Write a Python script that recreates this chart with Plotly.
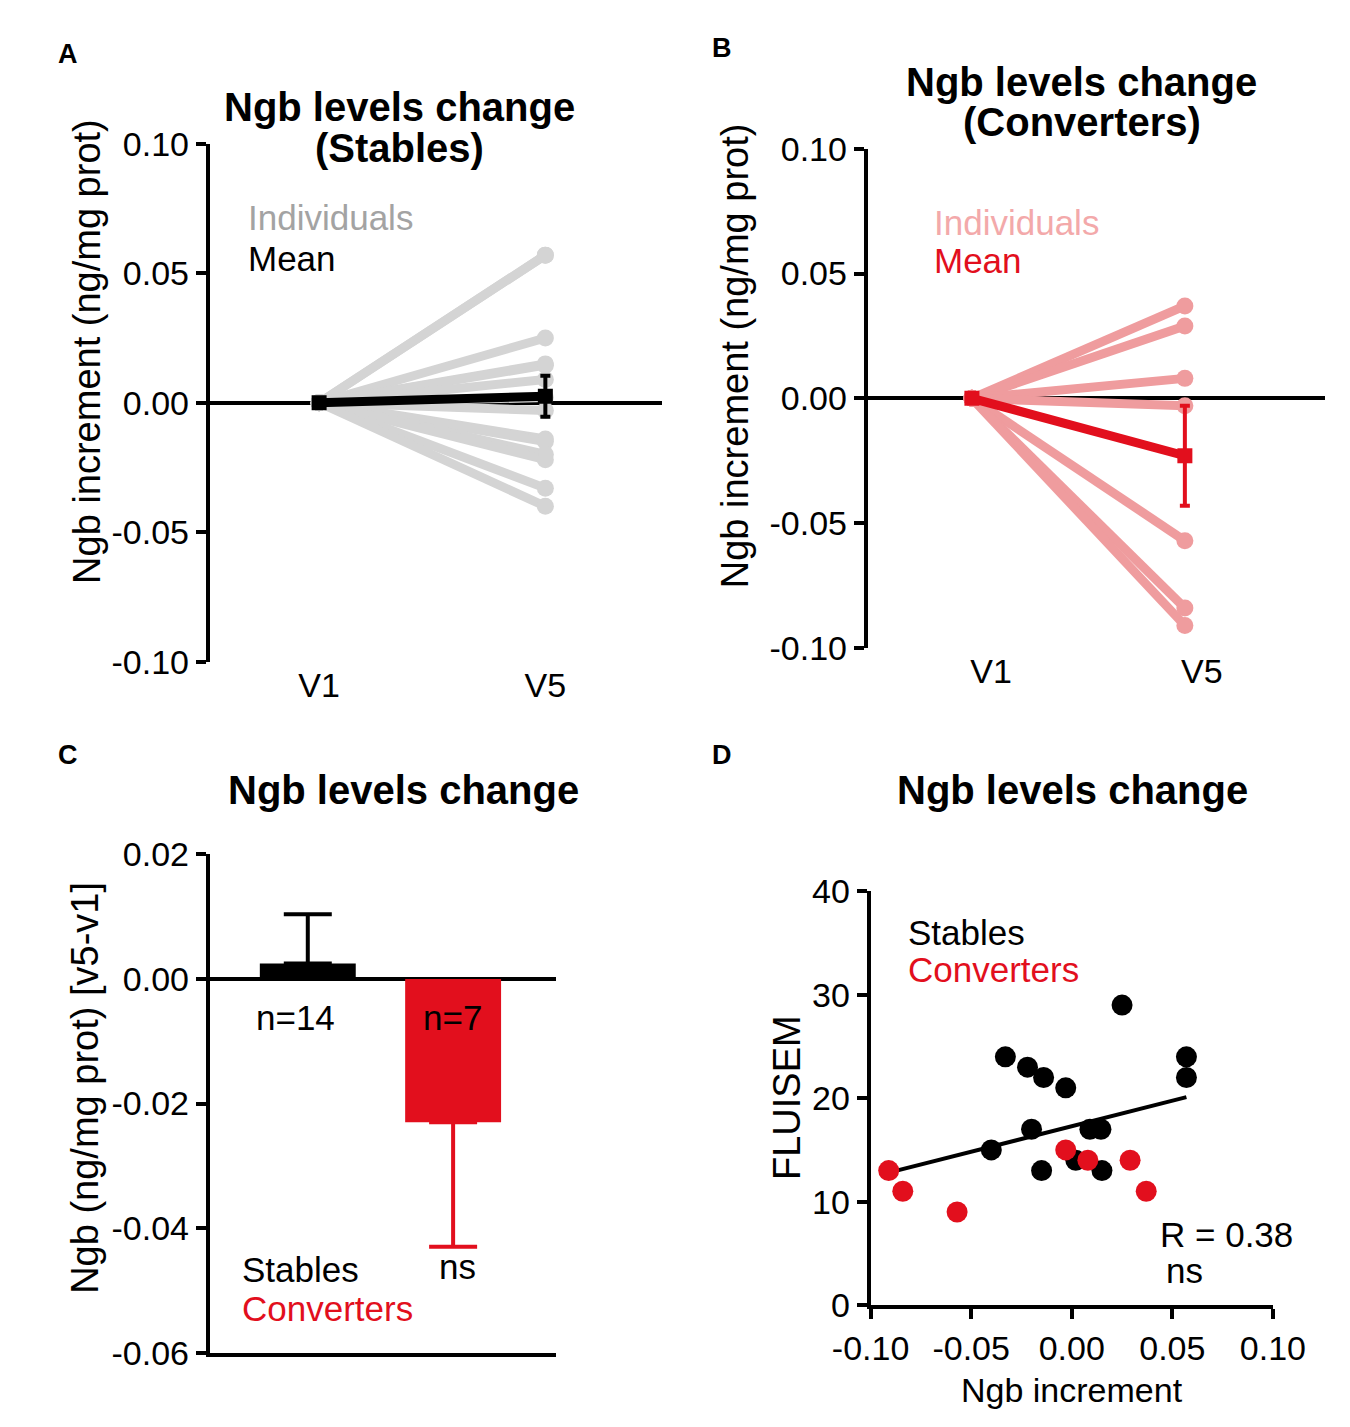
import plotly.graph_objects as go

W, H = 1350, 1427

# ---- data ----
visits = ["V1", "V5"]
stables_v5 = [0.057, 0.057, 0.025, 0.015, 0.0145, 0.009, 0.002,
              -0.003, -0.014, -0.015, -0.020, -0.022, -0.033, -0.040]
stables_fluisem = [24, 22, 29, 13, 17, 17, 14, 21, 22, 13, 17, 23, 24, 15]
converters_v5 = [0.037, 0.029, 0.008, -0.003, -0.057, -0.084, -0.091]
converters_fluisem = [11, 14, 14, 15, 9, 11, 13]
groups = ["Stables", "Converters"]
mean_change = [0.0025, -0.023]
sem_change = [0.0079, 0.020]
group_n = ["n=14", "n=7"]
fit_x = [-0.091, 0.057]
fit_y = [12.8, 20.1]

ab_ticks = [0.10, 0.05, 0.0, -0.05, -0.10]
ab_ticktext = ["0.10", "0.05", "0.00", "-0.05", "-0.10"]
c_ticks = [0.02, 0.0, -0.02, -0.04, -0.06]
c_ticktext = ["0.02", "0.00", "-0.02", "-0.04", "-0.06"]
d_xticks = [-0.10, -0.05, 0.0, 0.05, 0.10]
d_xticktext = ["-0.10", "-0.05", "0.00", "0.05", "0.10"]
d_yticks = [0, 10, 20, 30, 40]

BLACK = "#000000"
GREY = "#d4d4d4"
GREY_TXT = "#a3a3a3"
RED = "#e20f1d"
PINK = "#ef9c9e"
PINK_TXT = "#f3a9aa"
FONT = "Liberation Sans, Arial, sans-serif"


def px(x):
    return x / W


def py(y):
    return 1 - y / H


fig = go.Figure()

# panel A - stables individuals
for v in stables_v5:
    fig.add_trace(go.Scatter(x=[0, 1], y=[0, v], mode="lines+markers",
                             line=dict(color=GREY, width=9),
                             marker=dict(color=GREY, size=17),
                             xaxis="x", yaxis="y", showlegend=False))
fig.add_trace(go.Scatter(x=[0, 1], y=[0, mean_change[0]], mode="lines+markers",
                         line=dict(color=BLACK, width=9),
                         marker=dict(color=BLACK, size=15, symbol="square"),
                         error_y=dict(type="data", array=[0, sem_change[0]],
                                      color=BLACK, thickness=4, width=5),
                         xaxis="x", yaxis="y", showlegend=False))

# panel B - converters individuals
for v in converters_v5:
    fig.add_trace(go.Scatter(x=[0, 1], y=[0, v], mode="lines+markers",
                             line=dict(color=PINK, width=9),
                             marker=dict(color=PINK, size=17),
                             xaxis="x2", yaxis="y2", showlegend=False))
fig.add_trace(go.Scatter(x=[0, 1], y=[0, mean_change[1]], mode="lines+markers",
                         line=dict(color=RED, width=9),
                         marker=dict(color=RED, size=15, symbol="square"),
                         error_y=dict(type="data", array=[0, sem_change[1]],
                                      color=RED, thickness=4, width=5),
                         xaxis="x2", yaxis="y2", showlegend=False))

# panel C - bars
fig.add_trace(go.Bar(x=[0], y=[mean_change[0]], width=0.66, marker_color=BLACK,
                     marker_line_width=0,
                     error_y=dict(type="data", array=[sem_change[0]], arrayminus=[0],
                                  color=BLACK, thickness=4, width=24),
                     xaxis="x3", yaxis="y3", showlegend=False))
fig.add_trace(go.Bar(x=[1], y=[mean_change[1]], width=0.66, marker_color=RED,
                     marker_line_width=0,
                     error_y=dict(type="data", array=[0], arrayminus=[sem_change[1]],
                                  color=RED, thickness=4, width=24),
                     xaxis="x3", yaxis="y3", showlegend=False))

# panel D - scatter + fit
fig.add_trace(go.Scatter(x=fit_x, y=fit_y, mode="lines",
                         line=dict(color=BLACK, width=4),
                         xaxis="x4", yaxis="y4", showlegend=False))
fig.add_trace(go.Scatter(x=stables_v5, y=stables_fluisem, mode="markers",
                         marker=dict(color=BLACK, size=21),
                         xaxis="x4", yaxis="y4", showlegend=False))
fig.add_trace(go.Scatter(x=converters_v5, y=converters_fluisem, mode="markers",
                         marker=dict(color=RED, size=21),
                         xaxis="x4", yaxis="y4", showlegend=False))

tickfont = dict(family=FONT, size=34, color=BLACK)
yax = dict(showline=True, linecolor=BLACK, linewidth=4, ticks="outside",
           ticklen=10, tickwidth=4, tickcolor=BLACK, showgrid=False,
           tickfont=tickfont, zeroline=False)
xcat = dict(showline=False, showgrid=False, zeroline=False, ticks="",
            tickfont=tickfont)

fig.update_layout(
    width=W, height=H, margin=dict(l=0, r=0, t=0, b=0),
    plot_bgcolor="white", paper_bgcolor="white", font=dict(family=FONT),
    xaxis=dict(xcat, domain=[px(172), px(650)], range=[-0.483, 1.517],
               tickvals=[0, 1], ticktext=visits, anchor="y"),
    yaxis=dict(yax, domain=[py(652), py(120)], range=[-0.10, 0.10],
               tickvals=ab_ticks, ticktext=ab_ticktext, anchor="x",
               zeroline=True, zerolinecolor=BLACK, zerolinewidth=4),
    xaxis2=dict(xcat, domain=[px(867), 1.0], range=[-0.489, 1.658],
                tickvals=[0.09, 1.08], ticktext=visits, anchor="y2"),
    yaxis2=dict(yax, domain=[py(638), py(125)], range=[-0.10, 0.10],
                tickvals=ab_ticks, ticktext=ab_ticktext, anchor="x2",
                zeroline=True, zerolinecolor=BLACK, zerolinewidth=4),
    xaxis3=dict(showline=True, linecolor=BLACK, linewidth=4, showgrid=False,
                zeroline=False, ticks="", showticklabels=False,
                domain=[px(172), px(538)], range=[-0.674, 1.71], anchor="y3"),
    yaxis3=dict(yax, domain=[py(1362), py(850)], range=[-0.06, 0.02],
                tickvals=c_ticks, ticktext=c_ticktext, anchor="x3",
                zeroline=True, zerolinecolor=BLACK, zerolinewidth=4),
    xaxis4=dict(yax, domain=[px(870), px(1295)], range=[-0.10, 0.10],
                tickvals=d_xticks, ticktext=d_xticktext, anchor="y4"),
    yaxis4=dict(yax, domain=[py(1313), py(888)], range=[0, 40],
                tickvals=d_yticks, anchor="x4"),
)


def note(text, x, y, size=35, color=BLACK, xanchor="left", angle=0):
    fig.add_annotation(text=text, x=px(x), y=py(y), xref="paper", yref="paper",
                       xanchor=xanchor, yanchor="middle", showarrow=False,
                       textangle=angle, font=dict(family=FONT, size=size, color=color))


# panel letters
for letter, lx, ly in [("A", 10, 28), ("B", 700, 22), ("C", 10, 748), ("D", 700, 748)]:
    note("<b>" + letter + "</b>", lx, ly, size=27)

# titles
note("<b>Ngb levels change</b>", 372, 82, size=40, xanchor="center")
note("<b>(Stables)</b>", 372, 124, size=40, xanchor="center")
note("<b>Ngb levels change</b>", 1093, 56, size=40, xanchor="center")
note("<b>(Converters)</b>", 1093, 98, size=40, xanchor="center")
note("<b>Ngb levels change</b>", 377, 784, size=40, xanchor="center")
note("<b>Ngb levels change</b>", 1083, 784, size=40, xanchor="center")

# axis titles
note("Ngb increment (ng/mg prot)", 42, 333, size=38, xanchor="center", angle=-90)
note("Ngb increment (ng/mg prot)", 727, 338, size=38, xanchor="center", angle=-90)
note("Ngb (ng/mg prot) [v5-v1]", 40, 1090, size=38, xanchor="center", angle=-90)
note("FLUISEM", 781, 1100, size=38, xanchor="center", angle=-90)
note("Ngb increment", 1083, 1400, size=34, xanchor="center")

# in-plot labels
note("Individuals", 210, 196, color=GREY_TXT)
note("Mean", 210, 238)
note("Individuals", 935, 201, color=PINK_TXT)
note("Mean", 935, 240, color=RED)
note(group_n[0], 263, 1018, xanchor="center")
note(group_n[1], 428, 1018, xanchor="center")
note("ns", 434, 1273, xanchor="center")
note(groups[0], 204, 1276)
note(groups[1], 204, 1317, color=RED)
note(groups[0], 907, 930)
note(groups[1], 907, 968, color=RED)
note("R = 0.38", 1174, 1241)
note("ns", 1180, 1278)

fig.write_html("out.html")
